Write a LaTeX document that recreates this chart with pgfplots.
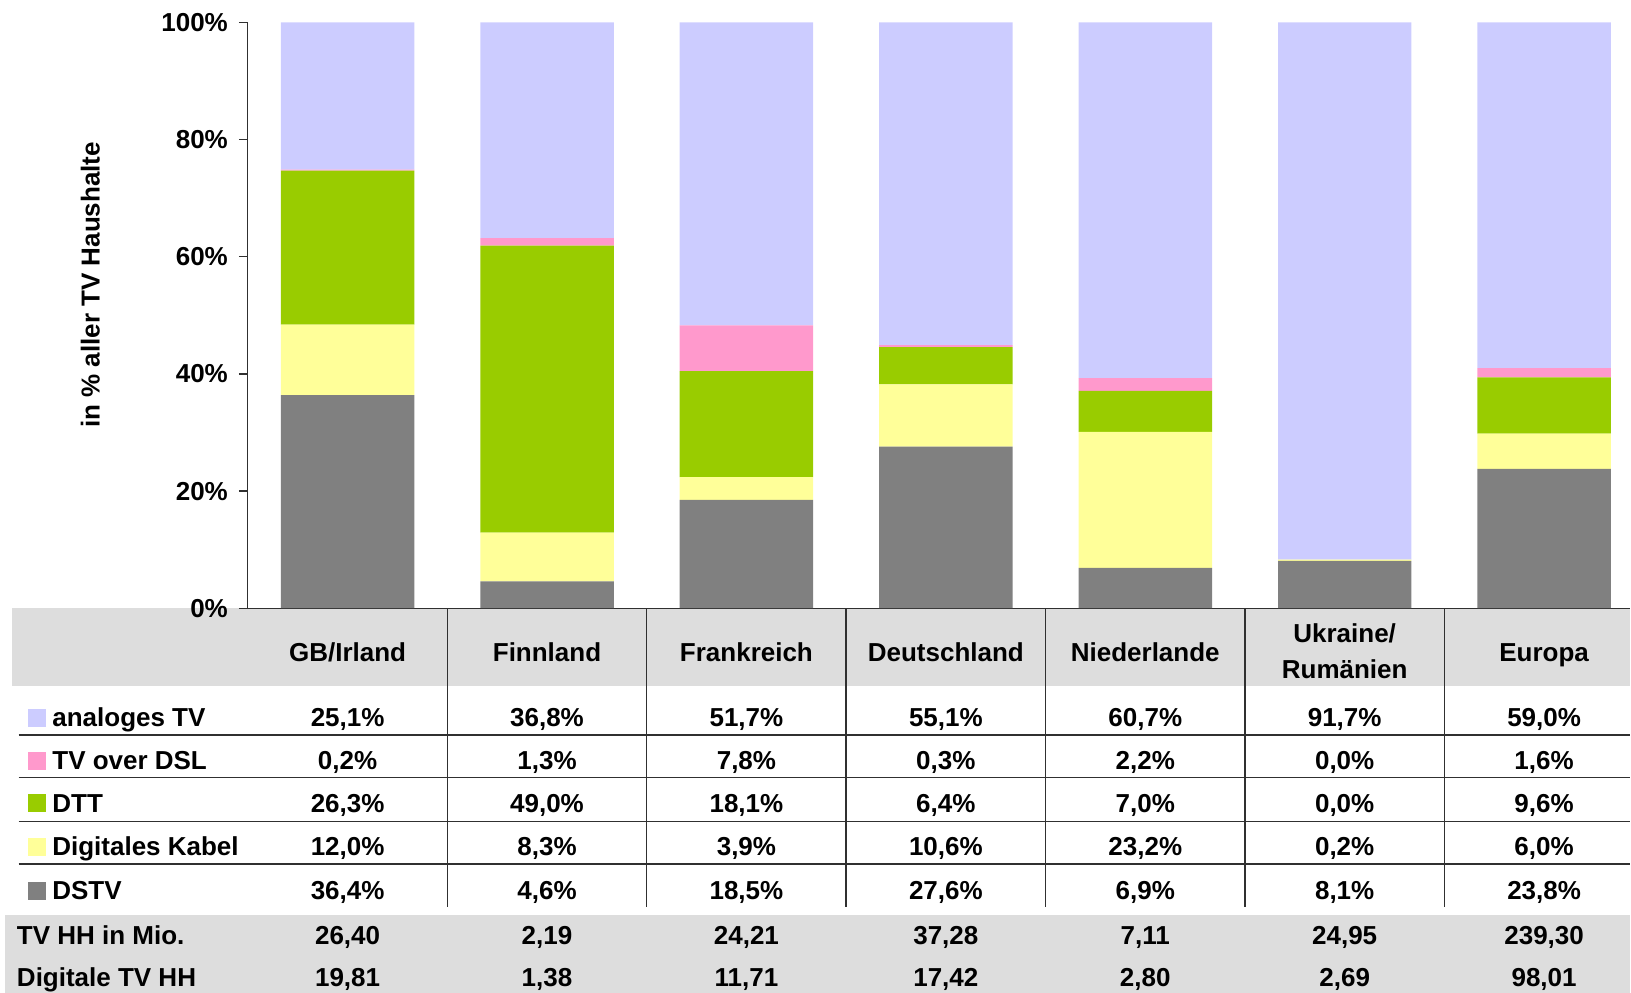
\documentclass[border=0pt]{standalone}
\usepackage{pgfplots}
\usepackage{pgfplotstable}
\pgfplotsset{compat=1.18}
\usepackage{fontspec}
\setmainfont{Liberation Sans}
\definecolor{cAnalog}{HTML}{CCCCFF}
\definecolor{cDSL}{HTML}{FF99CC}
\definecolor{cDTT}{HTML}{99CC00}
\definecolor{cKabel}{HTML}{FFFF99}
\definecolor{cDSTV}{HTML}{808080}
\definecolor{cBand}{HTML}{DDDDDD}
\definecolor{cLine}{HTML}{303030}
\pgfkeys{/pgf/number format/assume math mode=true}

\pgfplotstableread{
x dstv kabel dtt dsl analog
0 36.4 12.0 26.3 0.2 25.1
1 4.6 8.3 49.0 1.3 36.8
2 18.5 3.9 18.1 7.8 51.7
3 27.6 10.6 6.4 0.3 55.1
4 6.9 23.2 7.0 2.2 60.7
5 8.1 0.2 0.0 0.0 91.7
6 23.8 6.0 9.6 1.6 59.0
}\data

\newcommand{\tf}{\fontsize{13}{15}\selectfont\bfseries}

\begin{document}
\begin{tikzpicture}
\begin{scope}[x=0.5pt,y=-0.5pt,shift={(-124pt,304.25pt)}]
\useasboundingbox (0,0) rectangle (1631,993);
\fill[cBand] (12.5,608.5) rectangle (1631,686.5);
\fill[cBand] (5,915.4) rectangle (1631,993);
\end{scope}

\begin{axis}[
  at={(0,0)}, anchor=south west,
  scale only axis, width=691.5pt, height=293pt,
  xmin=-0.5, xmax=6.432, ymin=0, ymax=100,
  ybar stacked, bar width=66.75pt,
  axis x line*=bottom, axis y line*=left,
  axis line style={draw=cLine, line width=0.6pt},
  xtick=\empty,
  ytick={0,20,40,60,80,100},
  tick align=outside, tick pos=left,
  major tick length=4.5pt,
  ytick style={draw=cLine, line width=0.6pt},
  yticklabel={\pgfmathprintnumber{\tick}\%},
  yticklabel style={font=\tf, xshift=-2pt},
  ylabel={in \% aller TV Haushalte},
  ylabel style={at={(axis description cs:-0.1139,0.552)}, anchor=center, font=\tf},
  clip=false,
]
\addplot[fill=cDSTV, draw=none] table[x=x, y=dstv] {\data};
\addplot[fill=cKabel, draw=none] table[x=x, y=kabel] {\data};
\addplot[fill=cDTT, draw=none] table[x=x, y=dtt] {\data};
\addplot[fill=cDSL, draw=none] table[x=x, y=dsl] {\data};
\addplot[fill=cAnalog, draw=none] table[x=x, y=analog] {\data};
\end{axis}

\begin{scope}[x=0.5pt,y=-0.5pt,shift={(-124pt,304.25pt)}, font=\tf]
% table grid
\foreach \xx in {447.5,647,846.5,1046,1245.5,1445}
  \draw[cLine, line width=0.7pt] (\xx,608.5) -- (\xx,907);
\foreach \yy in {735.4,778.1,821.8,864.4}
  \draw[cLine, line width=0.7pt] (18.7,\yy) -- (1631,\yy);
% header
\foreach \nm [count=\i from 0] in {GB/Irland,Finnland,Frankreich,Deutschland,Niederlande,,Europa}
  \node[anchor=base, inner sep=0pt] at (347.75+199.5*\i, 661.7) {\nm};
\node[anchor=base, inner sep=0pt] at (1345.25, 643) {Ukraine/};
\node[anchor=base, inner sep=0pt] at (1345.25, 678.4) {Rumänien};
% legend keys and row labels
\foreach \col/\lab/\yb in {cAnalog/analoges TV/727.2, cDSL/TV over DSL/769.9, cDTT/DTT/812.5, cKabel/Digitales Kabel/856.2, cDSTV/DSTV/899.9}{
  \fill[\col] (28,\yb-17.7) rectangle (45.8,\yb);
  \node[anchor=base west, inner sep=0pt] at (52,\yb) {\lab};
}
% percentage rows from the data
\foreach \cn/\yb in {analog/727.2, dsl/769.9, dtt/812.5, kabel/856.2, dstv/899.9}{
  \foreach \i in {0,...,6}{
    \pgfplotstablegetelem{\i}{\cn}\of\data
    \node[anchor=base, inner sep=0pt] at (347.75+199.5*\i, \yb)
      {\pgfmathprintnumber[fixed, fixed zerofill, precision=1, use comma]{\pgfplotsretval}\%};
  }
}
% bottom rows
\node[anchor=base west, inner sep=0pt] at (16.6,944.6) {TV HH in Mio.};
\node[anchor=base west, inner sep=0pt] at (16.6,987.3) {Digitale TV HH};
\foreach \v [count=\i from 0] in {{26,40},{2,19},{24,21},{37,28},{7,11},{24,95},{239,30}}
  \node[anchor=base, inner sep=0pt] at (347.75+199.5*\i, 944.6) {\v};
\foreach \v [count=\i from 0] in {{19,81},{1,38},{11,71},{17,42},{2,80},{2,69},{98,01}}
  \node[anchor=base, inner sep=0pt] at (347.75+199.5*\i, 987.3) {\v};
\end{scope}
\end{tikzpicture}
\end{document}
